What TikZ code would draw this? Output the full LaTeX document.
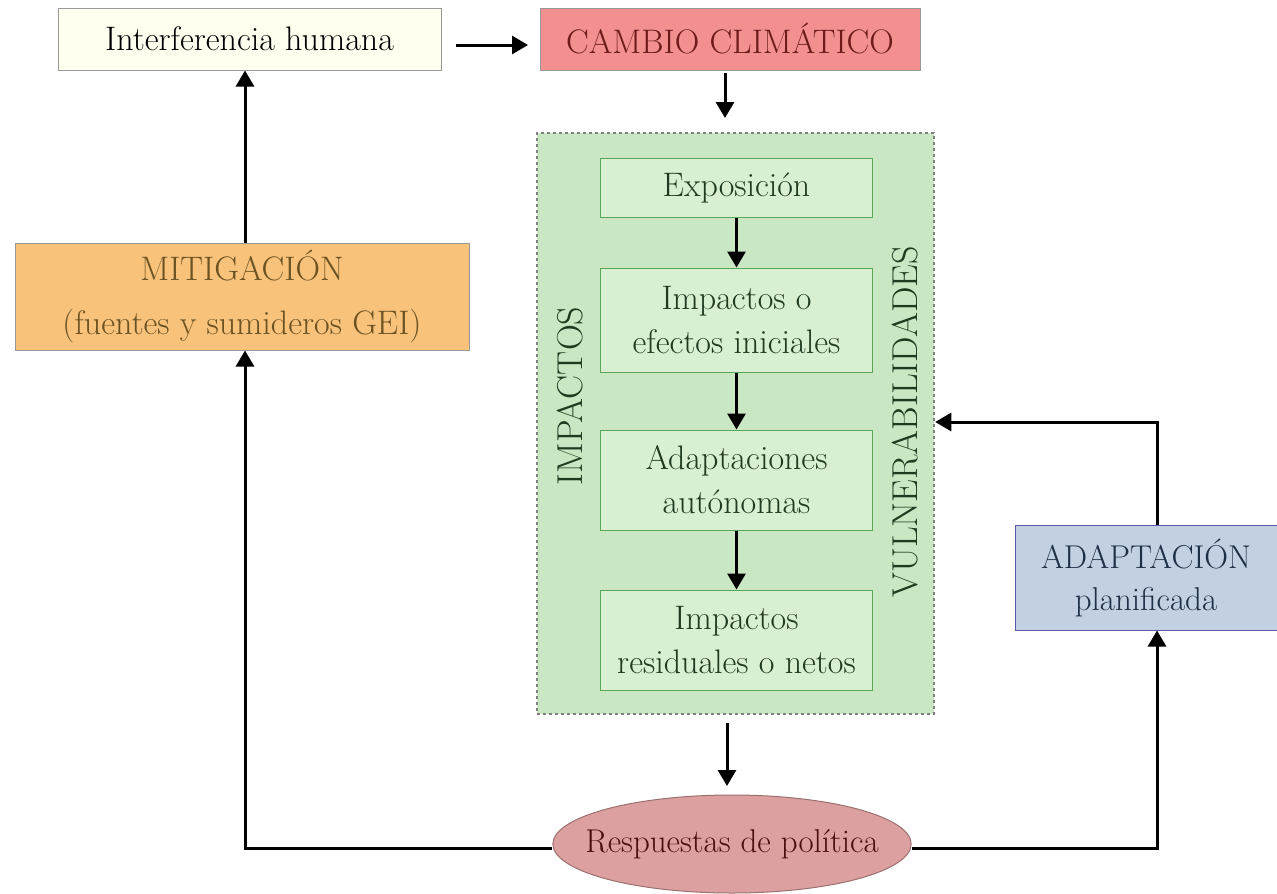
\documentclass[tikz,border=0pt]{standalone}
\usetikzlibrary{shapes.geometric,arrows.meta}
\definecolor{cream}{HTML}{FFFFF0}
\definecolor{redfill}{HTML}{F29090}
\definecolor{redtext}{HTML}{6E1A1A}
\definecolor{greenout}{HTML}{C9E7C2}
\definecolor{greenin}{HTML}{D9EFD2}
\definecolor{greentext}{HTML}{1F3A1F}
\definecolor{orangefill}{HTML}{F9C27A}
\definecolor{orangetext}{HTML}{6B5223}
\definecolor{bluefill}{HTML}{C3D0E2}
\definecolor{bluetext}{HTML}{1F2F45}
\definecolor{ellfill}{HTML}{DDA0A0}
\definecolor{elltext}{HTML}{4A1010}
\tikzset{
  box/.style={draw=gray!80, line width=1pt, align=center, inner sep=0pt, font=\fontsize{34}{44}\selectfont},
  innerbox/.style={box, draw=gray!70!green, fill=greenin, text=greentext, minimum width=272pt},
  conn/.style={line width=3pt, -{Triangle[length=16pt,width=18pt]}},
  vlabel/.style={rotate=90, text=greentext, font=\fontsize{36}{40}\selectfont}
}
\begin{document}
\begin{tikzpicture}[x=1pt,y=-1pt]
\useasboundingbox (0,0) rectangle (1277,894);
% top boxes
\node[box, fill=cream, minimum width=383pt, minimum height=62pt] (ih) at (249.5,39) {Interferencia humana};
\node[box, fill=redfill, text=redtext, minimum width=380pt, minimum height=62pt] (cc) at (730,39) {CAMBIO CLIMÁTICO};
% outer green box
\node[draw=gray, dashed, line width=2.5pt, fill=greenout, minimum width=397pt, minimum height=581pt, inner sep=0pt] (vul) at (735.5,423.5) {};
\node[vlabel] (imp) at (570,396) {IMPACTOS};
\node[vlabel] (vl) at (905,422) {VULNERABILIDADES};
% inner boxes
\node[innerbox, minimum height=59pt] (ex) at (736.5,187.5) {Exposición};
\node[innerbox, minimum height=104pt] (ie) at (736.5,320) {Impactos o\\efectos iniciales};
\node[innerbox, minimum height=100pt] (aa) at (736.5,480) {Adaptaciones\\autónomas};
\node[innerbox, minimum height=100pt] (ir) at (736.5,640) {Impactos\\residuales o netos};
% mitigation
\node[box, fill=orangefill, text=orangetext, minimum width=454pt, minimum height=107pt, font=\fontsize{34}{54}\selectfont] (mit) at (242,296.5) {MITIGACIÓN\\(fuentes y sumideros GEI)};
% adaptation
\node[box, draw=gray!70!blue, fill=bluefill, text=bluetext, minimum width=262pt, minimum height=105pt, font=\fontsize{33}{42}\selectfont] (ad) at (1146,577.5) {ADAPTACIÓN\\planificada};
% ellipse
\node[ellipse, draw=ellfill!70!black, line width=1pt, fill=ellfill, text=elltext, minimum height=98pt, inner xsep=-20pt, inner ysep=0pt, font=\fontsize{33}{38}\selectfont] (rp) at (732,844) {Respuestas de política};
% coordinates
\coordinate (c1) at (456,45);
\coordinate (c2) at (528,45);
\coordinate (c3) at (1157,422);
\coordinate (c4) at (1157,848);
\coordinate (c5) at (245,848);
% connectors
\draw[conn] (c1) -- (c2);
\draw[conn] (cc.south -| 725,0) ++(0,2) -- (725,118);
\draw[conn] (ex.south) -- (ie.north);
\draw[conn] (ie.south) -- (aa.north);
\draw[conn] (aa.south) -- (ir.north);
\draw[conn] (vul.south -| 727,0) ++(0,8) -- (727,786);
\draw[conn] (ad.north -| c3) -- (c3) -- (vul.east |- c3);
\draw[conn] (rp.east |- c4) -- (c4) -- (ad.south -| c4);
\draw[conn] (rp.west |- c5) -- (c5) -- (mit.south -| c5);
\draw[conn] (mit.north -| c5) -- (ih.south -| c5);
\end{tikzpicture}
\end{document}
